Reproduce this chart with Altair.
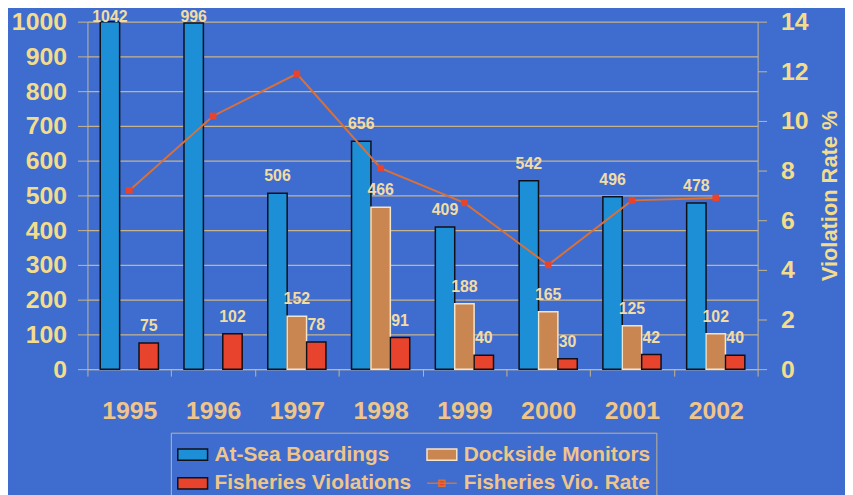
import altair as alt
import pandas as pd

years = ["1995", "1996", "1997", "1998", "1999", "2000", "2001", "2002"]
at_sea = [1042, 996, 506, 656, 409, 542, 496, 478]
dockside = [None, None, 152, 466, 188, 165, 125, 102]
violations = [75, 102, 78, 91, 40, 30, 42, 40]
vio_rate = [7.2, 10.2, 11.9, 8.1, 6.7, 4.2, 6.8, 6.9]

bar_names = ["At-Sea Boardings", "Dockside Monitors", "Fisheries Violations"]
rate_name = "Fisheries Vio. Rate"
# legend order (filled column by column)
legend_order = ["At-Sea Boardings", "Fisheries Violations", "Dockside Monitors", rate_name]
legend_colors = ["#1c8fd6", "#e8432c", "#c98650", "#e8432c"]

rows = []
for i, y in enumerate(years):
    for name, vals in zip(bar_names, [at_sea, dockside, violations]):
        if vals[i] is not None:
            rows.append({"year": y, "series": name, "value": vals[i]})
bars_df = pd.DataFrame(rows)
rate_df = pd.DataFrame({"year": years, "rate": vio_rate})

FONT = "Liberation Sans"
BG = "#3e6dcf"
GRID = "#c8b48c"
TAN = "#f0c58a"
YEL = "#f3dc8c"
LBL = "#f2dca4"

x_enc = alt.X("year:N", sort=years, scale=alt.Scale(paddingInner=0, paddingOuter=0),
              axis=alt.Axis(title=None, labelFont=FONT, labelFontSize=25, labelFontWeight="bold",
                            labelColor=TAN, labelPadding=23, tickBand="extent", tickSize=7,
                            tickColor=GRID, domainColor=GRID, labelAngle=0))
xoff = alt.XOffset("series:N", sort=bar_names,
                   scale=alt.Scale(domain=bar_names, paddingInner=0, paddingOuter=0.66))
yscale = alt.Scale(domain=[0, 1000], clamp=True, nice=False)
left_axis = alt.Axis(title=None, values=list(range(0, 1001, 100)), format="d", labelFont=FONT,
                     labelFontSize=25, labelFontWeight="bold", labelColor=YEL,
                     labelPadding=11, tickSize=10, tickColor=GRID, domainColor=GRID,
                     grid=True, gridColor=GRID, gridWidth=1.2)

shape_expr = ("datum.value === 'Fisheries Vio. Rate' ? 'M-1,0H1M-0.2,-0.2H0.2V0.2H-0.2Z' : "
              "'M-1,-0.38H1V0.38H-1Z'")
stroke_expr = ("datum.value === 'Dockside Monitors' ? '#f3e4cc' : "
               "(datum.value === 'Fisheries Vio. Rate' ? '#d9703a' : '#101018')")

legend = alt.Legend(
    title=None, orient="none", legendX=84, legendY=414, columns=2, symbolSize=900,
    labelFont=FONT, labelFontSize=21, labelFontWeight="bold", labelColor=TAN,
    strokeColor=GRID, padding=6, columnPadding=12, rowPadding=3, labelOffset=6,
    symbolStrokeWidth=1.5, labelLimit=300, symbolOpacity=1,
    symbolType={"expr": shape_expr},
    symbolStrokeColor={"expr": stroke_expr},
)

bars = alt.Chart(bars_df).mark_bar(strokeWidth=1.5).encode(
    x=x_enc,
    xOffset=xoff,
    y=alt.Y("value:Q", scale=yscale, axis=left_axis),
    color=alt.Color("series:N", scale=alt.Scale(domain=legend_order, range=legend_colors),
                    legend=legend),
    stroke=alt.Stroke("series:N", scale=alt.Scale(domain=bar_names,
                      range=["#101018", "#f3e4cc", "#101018"]), legend=None),
)

labels = alt.Chart(bars_df).transform_calculate(
    labelpos="min(datum.value, 965)"
).mark_text(font=FONT, fontSize=16, fontWeight="bold", color=LBL, dy=-17, baseline="middle").encode(
    x=x_enc,
    xOffset=xoff,
    y=alt.Y("labelpos:Q", scale=yscale, axis=left_axis),
    text=alt.Text("value:Q"),
)

left = alt.layer(bars, labels)

rscale = alt.Scale(domain=[0, 14], nice=False)
right_axis = alt.Axis(orient="right", title="Violation Rate %", values=list(range(0, 15, 2)),
                      labelFont=FONT, labelFontSize=25, labelFontWeight="bold", labelColor=YEL,
                      labelPadding=14, tickSize=9, tickColor=GRID, domainColor=GRID, grid=False,
                      titleFont=FONT, titleFontSize=22, titleFontWeight="bold", titleColor=YEL,
                      titleAngle=270, titleBaseline="top", titlePadding=12)

line = alt.Chart(rate_df).mark_line(color="#d9703a", strokeWidth=2).encode(
    x=x_enc, y=alt.Y("rate:Q", scale=rscale, axis=right_axis))
pts = alt.Chart(rate_df).mark_point(shape="square", filled=True, color="#e8432c", size=45, opacity=1).encode(
    x=x_enc, y=alt.Y("rate:Q", scale=rscale, axis=right_axis))
right = alt.layer(line, pts)

chart = alt.layer(left, right).resolve_scale(y="independent", stroke="independent").properties(
    width=675, height=350,
    autosize=alt.AutoSizeParams(type="none"),
    padding={"left": 80, "top": 12, "right": 88, "bottom": 125},
    background=BG,
).configure_view(stroke=None)

chart.save("out.html", embed_options={"renderer": "svg", "actions": False})
